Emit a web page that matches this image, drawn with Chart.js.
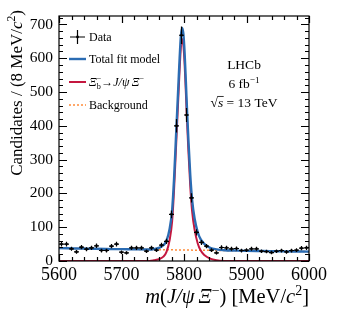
<!DOCTYPE html>
<html>
<head>
<meta charset="utf-8">
<script src="https://cdn.jsdelivr.net/npm/chart.js@4.4.1/dist/chart.umd.min.js"></script>
<style>
  html, body { margin: 0; padding: 0; background: #fff; }
</style>
</head>
<body>
<canvas id="massChart" width="345" height="312"></canvas>
<script>
// Data: candidates per 8 MeV bin
const massBins = [5604, 5612, 5620, 5628, 5636, 5644, 5652, 5660, 5668, 5676,
                  5684, 5692, 5700, 5708, 5716, 5724, 5732, 5740, 5748, 5756,
                  5764, 5772, 5780, 5788, 5796, 5804, 5812, 5820, 5828, 5836,
                  5844, 5852, 5860, 5868, 5876, 5884, 5892, 5900, 5908, 5916,
                  5924, 5932, 5940, 5948, 5956, 5964, 5972, 5980, 5988, 5996];
const counts = [50, 50, 36, 27, 41, 35, 39, 45, 31, 31,
                44, 50, 26, 24, 39, 39, 39, 29, 39, 32,
                47, 58, 138, 400, 668, 432, 187, 85, 55, 44,
                32, 24, 40, 39, 36, 37, 31, 32, 36, 36,
                29, 28, 25, 29, 31, 27, 31, 32, 38, 39];

// Total fit model
const fitMass = [5600, 5625, 5650, 5675, 5700, 5725, 5745, 5752, 5761, 5767,
                 5772, 5777, 5781, 5784, 5787, 5789, 5791, 5793, 5795, 5797,
                 5799, 5801, 5803, 5805, 5807, 5810, 5813, 5817, 5822, 5827,
                 5833, 5842, 5852, 5865, 5880, 5900, 5925, 5950, 5975, 6000];
const fitTotal = [38, 37.2, 36.4, 35.6, 35, 34.3, 34, 35.5, 39.5, 46.5,
                  60, 95, 150, 240, 360, 440, 520, 600, 665, 690,
                  672, 615, 530, 440, 360, 255, 180, 125, 85, 63,
                  50, 39, 34.5, 31.8, 31, 30, 29.4, 28.8, 28.2, 27.6];

// Signal component
const sigMass = [5600, 5745, 5752, 5761, 5767, 5772, 5777, 5781, 5784, 5787,
                 5789, 5791, 5793, 5795, 5797, 5799, 5801, 5803, 5805, 5807,
                 5810, 5813, 5817, 5822, 5827, 5833, 5842, 5852, 5862, 6000];
const sigCurve = [0, 0, 2, 6, 13, 27, 62, 117, 207, 327,
                  407, 487, 567, 632, 657, 639, 582, 497, 407, 327,
                  222, 147, 92, 52, 30, 17, 7, 2, 0, 0];

// Background component
const bkgMass = [5600, 5700, 5800, 5900, 6000];
const bkgCurve = [38, 35, 32.5, 30, 27.6];

const xTicks = [5600, 5700, 5800, 5900, 6000];
const yTicks = [0, 100, 200, 300, 400, 500, 600, 700];

const BLUE = '#2b6cb3';
const RED = '#c4173f';
const ORANGE = '#ff8c3a';
const SERIF = '"Liberation Serif", "DejaVu Serif", serif';

const pts = (xs, ys) => xs.map((x, i) => ({ x: x, y: ys[i] }));

// draw a run of text pieces (italic / sub / sup)
function runWidth(ctx, runs, size) {
  let cur = 0, prev = 0;
  runs.forEach(r => {
    const s = (r.sub || r.sup) ? size * 0.68 : size;
    ctx.font = (r.it ? 'italic ' : '') + s + 'px ' + SERIF;
    const w = ctx.measureText(r.t).width;
    const start = r.stack ? prev : cur;
    cur = Math.max(cur, start + w);
    prev = start;
  });
  return cur;
}

function drawRuns(ctx, runs, x, y, size, align) {
  const total = runWidth(ctx, runs, size);
  let x0 = x;
  if (align === 'right') x0 = x - total;
  if (align === 'center') x0 = x - total / 2;
  let cur = 0, prev = 0;
  ctx.textAlign = 'left';
  ctx.textBaseline = 'alphabetic';
  runs.forEach(r => {
    const s = (r.sub || r.sup) ? size * 0.68 : size;
    ctx.font = (r.it ? 'italic ' : '') + s + 'px ' + SERIF;
    const w = ctx.measureText(r.t).width;
    const start = r.stack ? prev : cur;
    let dy = 0;
    if (r.sub) dy = size * 0.22;
    if (r.sup) dy = -size * 0.4;
    ctx.fillText(r.t, x0 + start, y + dy);
    cur = Math.max(cur, start + w);
    prev = start;
  });
  return x0;
}

const decor = {
  id: 'decor',
  afterDatasetsDraw(chart) {
    const ctx = chart.ctx;
    const xs = chart.scales.x, ys = chart.scales.y;
    ctx.save();
    ctx.strokeStyle = '#000';
    ctx.lineWidth = 1.2;
    massBins.forEach((m, i) => {
      const n = counts[i];
      const err = Math.sqrt(n);
      const px = xs.getPixelForValue(m);
      const py = ys.getPixelForValue(n);
      ctx.beginPath();
      ctx.moveTo(xs.getPixelForValue(m - 4), py);
      ctx.lineTo(xs.getPixelForValue(m + 4), py);
      ctx.moveTo(px, ys.getPixelForValue(n - err));
      ctx.lineTo(px, ys.getPixelForValue(n + err));
      ctx.stroke();
    });
    ctx.restore();
  },
  afterDraw(chart) {
    const ctx = chart.ctx;
    const { left, right, top, bottom } = chart.chartArea;
    const xs = chart.scales.x, ys = chart.scales.y;
    ctx.save();
    ctx.strokeStyle = '#000';
    ctx.fillStyle = '#000';
    ctx.lineWidth = 1.2;
    ctx.strokeRect(left, top, right - left, bottom - top);

    // inward ticks
    ctx.beginPath();
    for (let v = 5600; v <= 6000; v += 20) {
      const px = Math.round(xs.getPixelForValue(v)) + 0.5;
      const len = v % 100 === 0 ? 7 : 4;
      ctx.moveTo(px, bottom); ctx.lineTo(px, bottom - len);
      ctx.moveTo(px, top); ctx.lineTo(px, top + len);
    }
    for (let v = 0; v <= 720; v += 20) {
      const py = Math.round(ys.getPixelForValue(v)) + 0.5;
      const len = v % 100 === 0 ? 8 : 4;
      ctx.moveTo(left, py); ctx.lineTo(left + len, py);
      ctx.moveTo(right, py); ctx.lineTo(right - len, py);
    }
    ctx.stroke();

    // axis titles
    drawRuns(ctx, [
      { t: 'm', it: true }, { t: '(' }, { t: 'J/\u03C8', it: true }, { t: '\u2009' },
      { t: '\u039E', it: true }, { t: '\u2212', sup: true }, { t: ') [MeV/' },
      { t: 'c', it: true }, { t: '2', sup: true }, { t: ']' }
    ], right, 303, 20.5, 'right');

    ctx.save();
    ctx.translate(22, 10);
    ctx.rotate(-Math.PI / 2);
    drawRuns(ctx, [
      { t: 'Candidates / (8 MeV/' }, { t: 'c', it: true }, { t: '2', sup: true }, { t: ')' }
    ], 0, 0, 17, 'right');
    ctx.restore();

    // legend
    const lx0 = 69, lx1 = 86, tx = 89, fs = 12;
    const rows = [37, 59, 82, 105];
    ctx.lineWidth = 1.2;
    ctx.beginPath();
    ctx.moveTo(lx0 + 1, rows[0]); ctx.lineTo(lx1 - 1, rows[0]);
    ctx.moveTo((lx0 + lx1) / 2, rows[0] - 7); ctx.lineTo((lx0 + lx1) / 2, rows[0] + 7);
    ctx.stroke();
    ctx.beginPath();
    ctx.arc((lx0 + lx1) / 2, rows[0], 1.4, 0, Math.PI * 2);
    ctx.fill();

    ctx.lineWidth = 2.4; ctx.strokeStyle = BLUE;
    ctx.beginPath(); ctx.moveTo(lx0, rows[1]); ctx.lineTo(lx1, rows[1]); ctx.stroke();
    ctx.lineWidth = 2; ctx.strokeStyle = RED;
    ctx.beginPath(); ctx.moveTo(lx0, rows[2]); ctx.lineTo(lx1, rows[2]); ctx.stroke();
    ctx.lineWidth = 1.5; ctx.strokeStyle = ORANGE; ctx.setLineDash([2, 2]);
    ctx.beginPath(); ctx.moveTo(lx0, rows[3]); ctx.lineTo(lx1, rows[3]); ctx.stroke();
    ctx.setLineDash([]);

    ctx.fillStyle = '#000';
    const base = fs * 0.34;
    drawRuns(ctx, [{ t: 'Data' }], tx, rows[0] + base, fs, 'left');
    drawRuns(ctx, [{ t: 'Total fit model' }], tx, rows[1] + base, fs, 'left');
    drawRuns(ctx, [
      { t: '\u039E', it: true }, { t: 'b', sub: true }, { t: '\u2212', sup: true, stack: true },
      { t: '\u2192' }, { t: 'J/\u03C8', it: true }, { t: '\u2009' },
      { t: '\u039E', it: true }, { t: '\u2212', sup: true }
    ], tx, rows[2] + base, fs, 'left');
    drawRuns(ctx, [{ t: 'Background' }], tx, rows[3] + base, fs, 'left');

    // experiment label
    const cx = 244, ls = 13.5;
    drawRuns(ctx, [{ t: 'LHCb' }], cx, 69, ls, 'center');
    drawRuns(ctx, [{ t: '6 fb' }, { t: '\u22121', sup: true }], cx, 88, ls, 'center');
    const sx = drawRuns(ctx, [{ t: '\u221A' }, { t: 's', it: true }, { t: ' = 13 TeV' }], cx, 107, ls, 'center');
    ctx.font = ls + 'px ' + SERIF;
    const rw = ctx.measureText('\u221A').width;
    ctx.font = 'italic ' + ls + 'px ' + SERIF;
    const sw = ctx.measureText('s').width;
    ctx.strokeStyle = '#000'; ctx.lineWidth = 0.8;
    ctx.beginPath();
    ctx.moveTo(sx + rw - 0.5, 107 - ls * 0.78);
    ctx.lineTo(sx + rw + sw + 0.5, 107 - ls * 0.78);
    ctx.stroke();
    ctx.restore();
  }
};

new Chart(document.getElementById('massChart'), {
  type: 'line',
  data: {
    datasets: [
      {
        label: 'Data', data: pts(massBins, counts), showLine: false,
        pointRadius: 1.3, pointBackgroundColor: '#000', pointBorderWidth: 0, order: 0
      },
      {
        label: 'Total fit model', data: pts(fitMass, fitTotal), borderColor: BLUE,
        borderWidth: 2.4, pointRadius: 0, cubicInterpolationMode: 'monotone', order: 1
      },
      {
        label: 'Signal', data: pts(sigMass, sigCurve), borderColor: RED,
        borderWidth: 2, pointRadius: 0, cubicInterpolationMode: 'monotone', order: 2
      },
      {
        label: 'Background', data: pts(bkgMass, bkgCurve), borderColor: ORANGE,
        borderWidth: 1.5, borderDash: [2, 2], pointRadius: 0, order: 3
      }
    ]
  },
  options: {
    responsive: false,
    animation: false,
    events: [],
    layout: { padding: { left: 0, right: 36, top: 16, bottom: 0 } },
    plugins: { legend: { display: false }, tooltip: { enabled: false } },
    scales: {
      x: {
        type: 'linear', min: 5600, max: 6000,
        afterBuildTicks: s => { s.ticks = xTicks.map(v => ({ value: v })); },
        afterFit: s => { s.height = 51; },
        grid: { display: false, drawTicks: false },
        border: { display: false },
        ticks: {
          font: { family: SERIF, size: 18 }, color: '#000', padding: 3,
          maxRotation: 0, autoSkip: false, callback: v => String(v)
        }
      },
      y: {
        type: 'linear', min: 0, max: 725,
        afterBuildTicks: s => { s.ticks = yTicks.map(v => ({ value: v })); },
        afterFit: s => { s.width = 59; },
        grid: { display: false, drawTicks: false },
        border: { display: false },
        ticks: {
          font: { family: SERIF, size: 15.5 }, color: '#000', padding: 6,
          autoSkip: false, callback: v => String(v)
        }
      }
    }
  },
  plugins: [decor]
});
</script>
</body>
</html>
